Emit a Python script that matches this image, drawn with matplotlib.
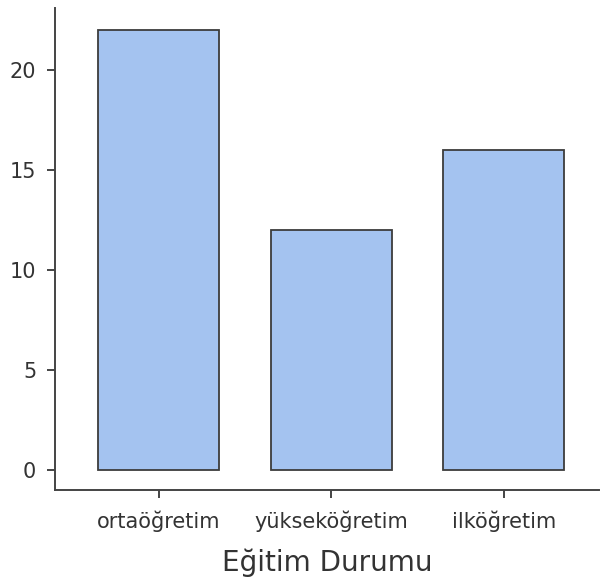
import matplotlib.pyplot as plt
import numpy as np

plt.rcParams['font.family'] = ['DejaVu Sans']

categories = ['ortaöğretim', 'yükseköğretim', 'ilköğretim']
counts = [22, 12, 16]
yticks = [0, 5, 10, 15, 20]

fig = plt.figure(figsize=(6.01, 5.82), dpi=100)
ax = fig.add_axes([0.0915, 0.158, 0.905, 0.828])

x = np.arange(len(categories))
ax.bar(x, counts, width=0.7, color='#a4c3f0', edgecolor='#3c3c3c', linewidth=1.3)

ax.set_xlim(-0.6, 2.55)
ax.set_ylim(-1, 23.1)
ax.set_xticks(x)
ax.set_xticklabels(categories)
ax.set_yticks(yticks)

for s in ['top', 'right']:
    ax.spines[s].set_visible(False)
for s in ['left', 'bottom']:
    ax.spines[s].set_color('#444444')
    ax.spines[s].set_linewidth(1.4)

ax.tick_params(axis='both', direction='out', length=5.5, width=1.4, color='#444444',
               labelcolor='#333333', labelsize=15)
ax.tick_params(axis='y', pad=8)
ax.tick_params(axis='x', pad=9)
ax.set_xlabel('Eğitim Durumu', fontsize=20, color='#333333', labelpad=12)

plt.savefig('out.png', dpi=100)
